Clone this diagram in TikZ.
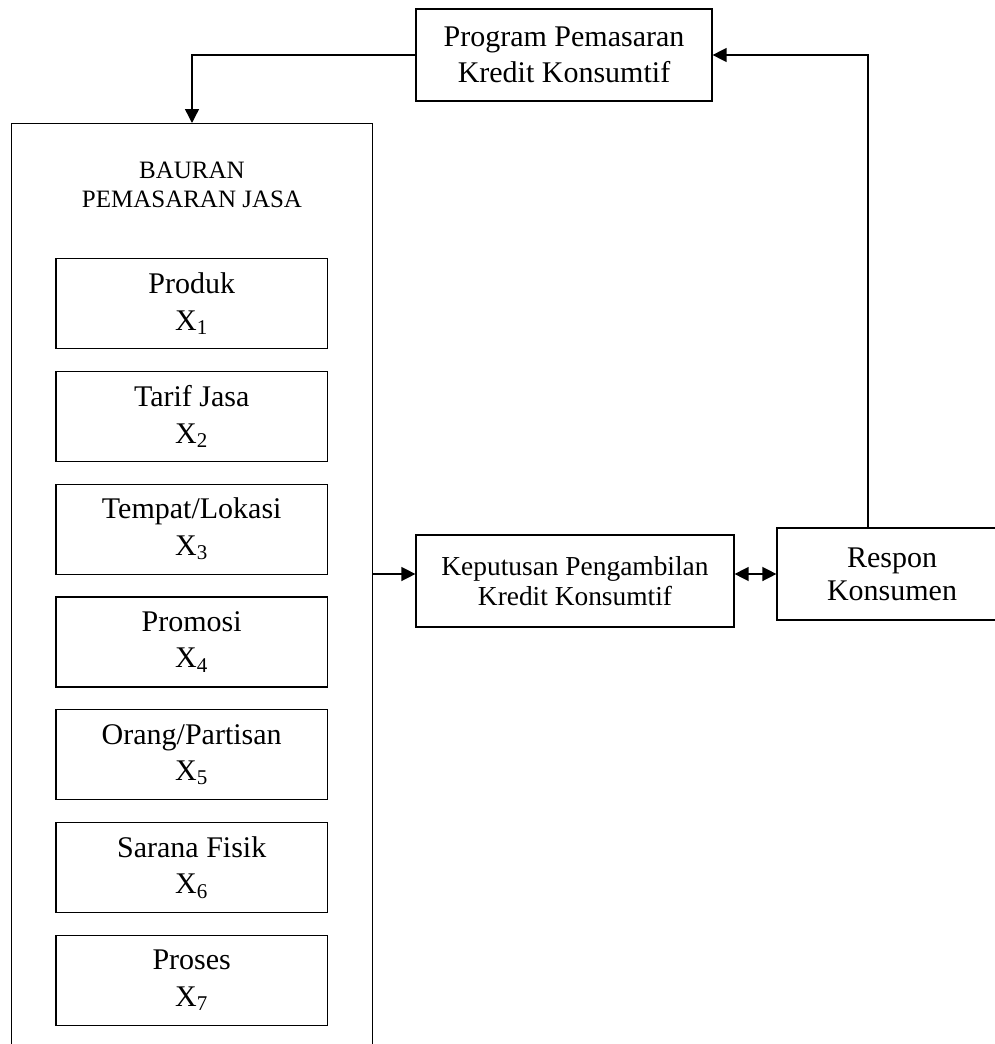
\documentclass[tikz,border=0pt]{standalone}
\usepackage{fontspec}
\setmainfont{Liberation Serif}
\usetikzlibrary{arrows.meta}

\begin{document}
\begin{tikzpicture}[x=0.5pt, y=-0.5pt,
    kotak/.style={draw, line width=0.6pt, inner sep=0pt, align=center},
    besar/.style={font=\fontsize{15}{18.3}\selectfont},
    arr/.style={line width=0.7pt, -{Triangle[length=7pt,width=7pt]}}]
    % Frame of the page
    \path[use as bounding box, clip] (0,0) rectangle (995,1044);
    % Draw top box
    \node[kotak, besar, minimum width=148pt, minimum height=46pt] (prog) at (564,55)
        {Program Pemasaran\\Kredit Konsumtif};
    % Draw marketing mix frame
    \node[kotak, minimum width=180.3pt, minimum height=470pt, anchor=north] (bauran) at (192,123) {};
    \node[align=center, font=\fontsize{12.5}{14.5}\selectfont] (judul) at (192,185)
        {BAURAN\\PEMASARAN JASA};
    % Draw the seven elements
    \foreach \nama/\teks [count=\i from 0] in {produk/Produk, tarif/Tarif Jasa,
        tempat/{Tempat/Lokasi}, promosi/Promosi, orang/{Orang/Partisan},
        sarana/Sarana Fisik, proses/Proses}
        \node[kotak, besar, minimum width=135.7pt, minimum height=45pt] (\nama)
            at (191.7,303.5+112.8*\i) {\teks\\X\textsubscript{\the\numexpr\i+1\relax}};
    % Draw decision and response boxes
    \node[kotak, font=\fontsize{13.7}{15}\selectfont, minimum width=159pt, minimum height=46pt] (keputusan)
        at (575,581) {Keputusan Pengambilan\\Kredit Konsumtif};
    \node[kotak, font=\fontsize{15}{16.5}\selectfont, minimum width=115pt, minimum height=46pt] (respon)
        at (892,574) {Respon\\Konsumen};
    % Draw arrows
    \draw[arr] (prog.west) -| (bauran.north);
    \draw[arr] ([xshift=-12pt]respon.north) |- (prog.east);
    \draw[arr] (bauran.east |- respon.west) -- (keputusan.west |- respon.west);
    \draw[arr, {Triangle[length=7pt,width=7pt]}-{Triangle[length=7pt,width=7pt]}]
        (keputusan.east |- respon.west) -- (respon.west);
\end{tikzpicture}
\end{document}
